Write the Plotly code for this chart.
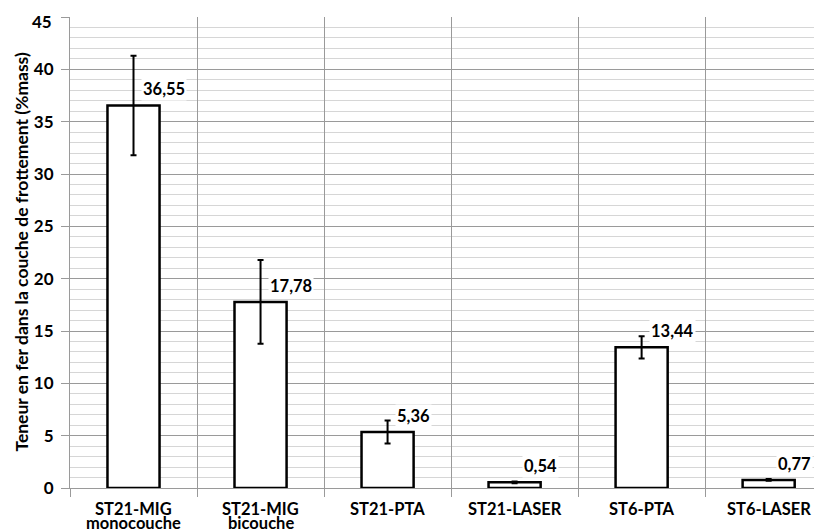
import plotly.graph_objects as go

categories = ["ST21-MIG<br>monocouche", "ST21-MIG<br>bicouche", "ST21-PTA",
              "ST21-LASER", "ST6-PTA", "ST6-LASER"]
values = [36.55, 17.78, 5.36, 0.54, 13.44, 0.77]
errors = [4.75, 4.0, 1.1, 0.08, 1.07, 0.08]
labels = ["36,55", "17,78", "5,36", "0,54", "13,44", "0,77"]
y_ticks = [0, 5, 10, 15, 20, 25, 30, 35, 40, 45]
y_title = "Teneur en fer dans la couche de frottement (%mass)"

FONT = "Lato"

fig = go.Figure()
fig.add_trace(go.Bar(
    x=categories, y=values,
    marker=dict(color="white", line=dict(color="black", width=2.5)),
    width=0.41,
    error_y=dict(type="data", array=errors, visible=True, color="black",
                 thickness=2, width=3),
    showlegend=False,
))

# value labels
for c, v, t in zip(categories, values, labels):
    fig.add_annotation(x=c, y=v, text="<b>%s</b>" % t, showarrow=False,
                       xanchor="left", yanchor="middle",
                       xshift=7, yshift=16, bgcolor="white",
                       font=dict(family=FONT, size=16.5, color="black"))

# category labels (tight line spacing, as in the reference)
for c in categories:
    for i, line in enumerate(c.split("<br>")):
        fig.add_annotation(x=c, y=0, xref="x", yref="paper",
                           text="<b>%s</b>" % line, showarrow=False,
                           xanchor="center", yanchor="middle",
                           yshift=-21 - 14 * i,
                           font=dict(family=FONT, size=16.5, color="black"))

# top tick label is nudged down inside the chart area, as in the reference
tick_text = ["<b>%d</b>" % v for v in y_ticks]
tick_text[-1] = ""
fig.add_annotation(x=0, y=y_ticks[-1], xref="paper", yref="y",
                   text="<b>%d</b>" % y_ticks[-1], showarrow=False,
                   xanchor="right", yanchor="middle", xshift=-16, yshift=-4,
                   font=dict(family=FONT, size=17, color="black"))

# y axis title
fig.add_annotation(x=0, y=0.5, xref="paper", yref="paper",
                   text="<b>%s</b>" % y_title, showarrow=False,
                   textangle=-90, xanchor="center", yanchor="middle",
                   xshift=-49,
                   font=dict(family=FONT, size=17.5, color="black"))

fig.update_layout(
    width=814, height=521,
    margin=dict(l=62, r=0, t=9, b=41),
    paper_bgcolor="white", plot_bgcolor="white",
    font=dict(family=FONT, color="black"),
)
fig.update_xaxes(
    type="category", range=[-0.5, 5.42], automargin=False,
    tickson="boundaries", showgrid=True, gridcolor="#9a9a9a", gridwidth=1,
    ticks="outside", ticklen=8, tickcolor="#9a9a9a",
    showticklabels=False,
    showline=True, linecolor="#9a9a9a", zeroline=False,
)
fig.update_yaxes(
    range=[0, 45], tickmode="array", tickvals=y_ticks, ticktext=tick_text,
    automargin=False,
    showgrid=True, gridcolor="#9a9a9a", gridwidth=1,
    minor=dict(tickmode="linear", tick0=0, dtick=1, showgrid=True,
               gridcolor="#d6d6d6", gridwidth=1),
    ticks="outside", ticklen=8, tickcolor="#9a9a9a",
    ticklabelstandoff=4, ticklabeloverflow="allow",
    tickfont=dict(family=FONT, size=17, color="black"),
    showline=True, linecolor="#9a9a9a", zeroline=False,
)

fig.write_html("out.html")
